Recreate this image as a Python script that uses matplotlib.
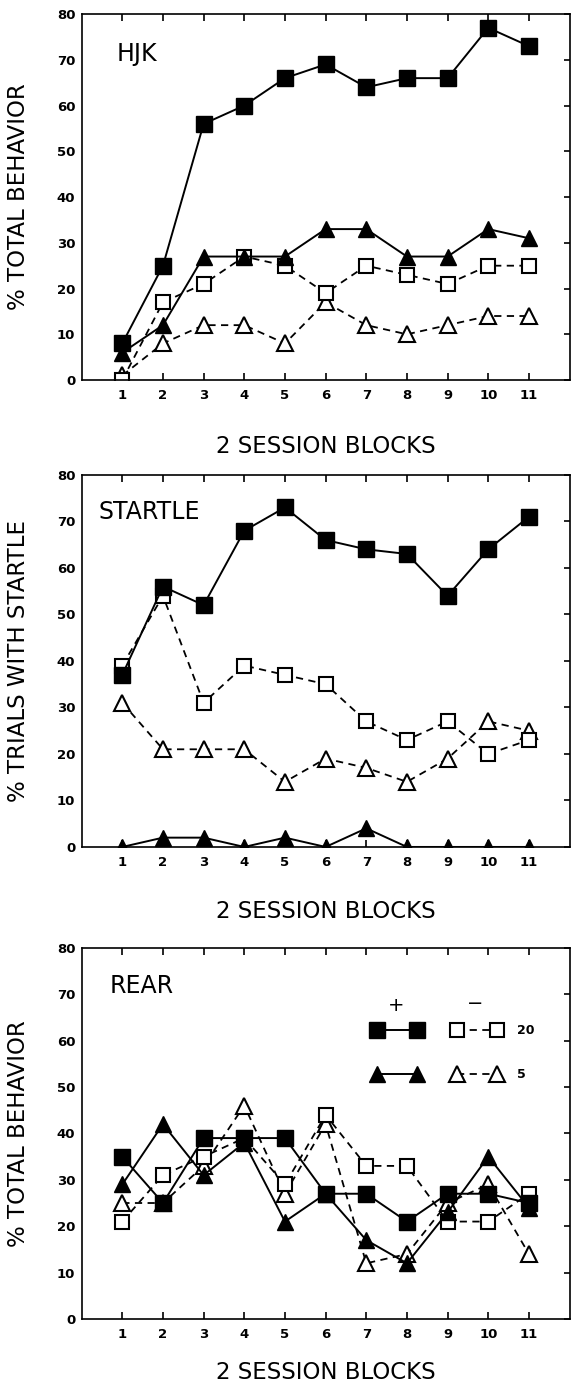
import numpy as np
import matplotlib
matplotlib.use('Agg')
import matplotlib.pyplot as plt
from matplotlib.lines import Line2D

plt.rcParams['font.family'] = ['DejaVu Sans']

blocks = list(range(1, 12))
ytick_vals = list(range(0, 81, 10))

# HJK
hjk_pos20 = [8, 25, 56, 60, 66, 69, 64, 66, 66, 77, 73]
hjk_pos5 = [6, 12, 27, 27, 27, 33, 33, 27, 27, 33, 31]
hjk_neg20 = [0, 17, 21, 27, 25, 19, 25, 23, 21, 25, 25]
hjk_neg5 = [1, 8, 12, 12, 8, 17, 12, 10, 12, 14, 14]

# STARTLE
st_pos20 = [37, 56, 52, 68, 73, 66, 64, 63, 54, 64, 71]
st_pos5 = [0, 2, 2, 0, 2, 0, 4, 0, 0, 0, 0]
st_neg20 = [39, 54, 31, 39, 37, 35, 27, 23, 27, 20, 23]
st_neg5 = [31, 21, 21, 21, 14, 19, 17, 14, 19, 27, 25]

# REAR
rear_pos20 = [35, 25, 39, 39, 39, 27, 27, 21, 27, 27, 25]
rear_pos5 = [29, 42, 31, 38, 21, 27, 17, 12, 23, 35, 24]
rear_neg20 = [21, 31, 35, 39, 29, 44, 33, 33, 21, 21, 27]
rear_neg5 = [25, 25, 33, 46, 27, 42, 12, 14, 25, 29, 14]

dash = (0, (4, 3))
sty_pos20 = dict(color='black', lw=1.4, ls='-', marker='s', ms=12, mfc='black', mec='black')
sty_pos5 = dict(color='black', lw=1.4, ls='-', marker='^', ms=12, mfc='black', mec='black')
sty_neg20 = dict(color='black', lw=1.3, ls=dash, marker='s', ms=10.5, mfc='white', mec='black', mew=1.5)
sty_neg5 = dict(color='black', lw=1.3, ls=dash, marker='^', ms=11, mfc='white', mec='black', mew=1.5)

fig = plt.figure(figsize=(5.72, 13.83), dpi=100)

rects = [
    [0.1427, 0.7252, 0.8531, 0.2646],
    [0.1427, 0.3876, 0.8531, 0.2690],
    [0.1427, 0.0463, 0.8531, 0.2683],
]

panels = [
    ('HJK', 0.0725, 0.892, '% TOTAL BEHAVIOR', -0.150,
     hjk_pos20, hjk_pos5, hjk_neg20, hjk_neg5),
    ('STARTLE', 0.035, 0.900, '% TRIALS WITH STARTLE', -0.1425,
     st_pos20, st_pos5, st_neg20, st_neg5),
    ('REAR', 0.057, 0.898, '% TOTAL BEHAVIOR', -0.113,
     rear_pos20, rear_pos5, rear_neg20, rear_neg5),
]

for rect, (title, tx, ty, ylab, xly, p20, p5, n20, n5) in zip(rects, panels):
    ax = fig.add_axes(rect)
    ax.plot(blocks, n5, **sty_neg5)
    ax.plot(blocks, n20, **sty_neg20)
    ax.plot(blocks, p5, **sty_pos5)
    ax.plot(blocks, p20, **sty_pos20)

    ax.set_xlim(0, 12)
    ax.set_ylim(0, 80)
    ax.set_xticks(blocks)
    ax.set_yticks(ytick_vals)
    for s in ax.spines.values():
        s.set_linewidth(1.2)
    ax.tick_params(axis='x', direction='in', top=True, bottom=True,
                   length=5, width=1.2, pad=6.5, labelsize=9.5)
    ax.tick_params(axis='y', direction='in', left=False, right=True,
                   length=4, width=1.2, pad=4.5, labelsize=9.5)
    for lbl in ax.get_xticklabels() + ax.get_yticklabels():
        lbl.set_fontweight('bold')

    ax.text(tx, ty, title, transform=ax.transAxes, fontsize=17,
            ha='left', va='center')
    ax.set_xlabel('2 SESSION BLOCKS', fontsize=16.5)
    ax.xaxis.set_label_coords(0.5, xly)
    ax.set_ylabel(ylab, fontsize=16.5)
    ax.yaxis.set_label_coords(-0.106, 0.5)

# legend in REAR panel
handles = [Line2D([], [], **sty_pos20), Line2D([], [], **sty_pos5),
           Line2D([], [], **sty_neg20), Line2D([], [], **sty_neg5)]
leg = ax.legend(handles, ['', '', '20', '5'], ncol=2, numpoints=2,
                loc='upper left', bbox_to_anchor=(0.597, 0.795),
                frameon=False, borderpad=0, borderaxespad=0,
                handlelength=3.8, handletextpad=1.3, columnspacing=1.3,
                labelspacing=2.5, prop={'size': 9, 'weight': 'bold'})
ax.text(0.644, 0.846, '+', transform=ax.transAxes, fontsize=14,
        ha='center', va='center')
ax.text(0.806, 0.849, '\u2212', transform=ax.transAxes, fontsize=14,
        ha='center', va='center')

fig.savefig('out.png', dpi=100)
